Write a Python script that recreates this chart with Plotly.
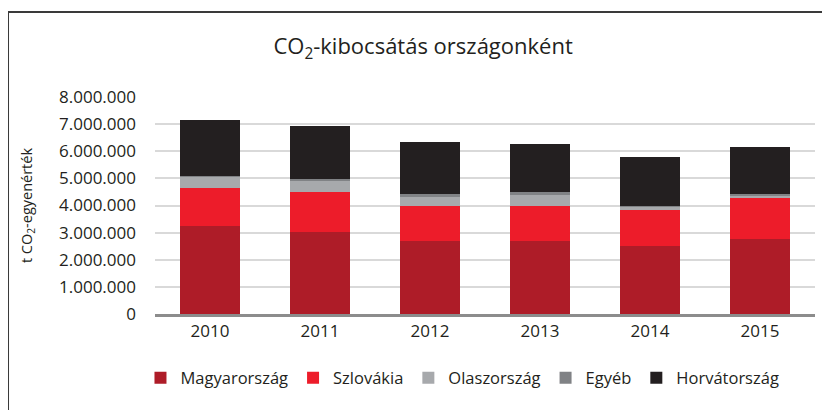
import plotly.graph_objects as go

years = ["2010", "2011", "2012", "2013", "2014", "2015"]
magyarorszag = [3260000, 3040000, 2700000, 2700000, 2520000, 2780000]
szlovakia = [1370000, 1440000, 1300000, 1300000, 1330000, 1480000]
olaszorszag = [440000, 450000, 330000, 370000, 110000, 120000]
egyeb = [30000, 30000, 80000, 110000, 40000, 30000]
horvatorszag = [2050000, 1970000, 1920000, 1780000, 1780000, 1740000]

series = [
    ("Magyarország", magyarorszag, "#AE1C28"),
    ("Szlovákia", szlovakia, "#ED1C2A"),
    ("Olaszország", olaszorszag, "#A7A9AC"),
    ("Egyéb", egyeb, "#808285"),
    ("Horvátország", horvatorszag, "#231F20"),
]

FONT = "Open Sans"
TXT = "#231F20"

fig = go.Figure()
for name, vals, col in series:
    fig.add_trace(go.Bar(x=years, y=vals, name=name, marker_color=col,
                         marker_line_width=0))

# page body has an 8px margin; figure is sized/offset to compensate
fig.update_layout(
    width=822, height=402,
    barmode="stack", bargap=0.455,
    margin=dict(l=147, r=15, t=89, b=96),
    paper_bgcolor="white", plot_bgcolor="white",
    separators=",.",
    font=dict(family=FONT, color=TXT),
    title=dict(text="CO<sub>2</sub>-kibocsátás országonként", x=0.505, xanchor="center",
               y=0.905, yanchor="middle", font=dict(size=22, family=FONT, color=TXT)),
    legend=dict(orientation="h", x=-0.022, xanchor="left", y=-0.295, yanchor="middle",
                font=dict(size=16.5, family=FONT, color=TXT),
                traceorder="normal", itemwidth=30),
    showlegend=True,
)
fig.update_yaxes(range=[0, 8000000], dtick=1000000, tickformat=",d",
                 showgrid=True, gridcolor="#D9D9D9", gridwidth=2,
                 zeroline=False, showline=False, ticks="",
                 ticklabelstandoff=18,
                 tickfont=dict(size=17, family=FONT, color=TXT),
                 title=dict(text="t CO<sub>2</sub>-egyenérték", standoff=22,
                            font=dict(size=14.5, family=FONT, color=TXT)))
fig.update_xaxes(showline=True, linecolor="#8C8C8C", linewidth=3,
                 ticks="", showgrid=False,
                 tickfont=dict(size=17, family=FONT, color=TXT))

# outer frame
fig.add_shape(type="rect", xref="paper", yref="paper",
              x0=-0.2227, x1=1.2, y0=-0.6, y1=1.3917,
              line=dict(color="#3A3A3A", width=2), fillcolor="rgba(0,0,0,0)", layer="below")

fig.write_html("out.html")
